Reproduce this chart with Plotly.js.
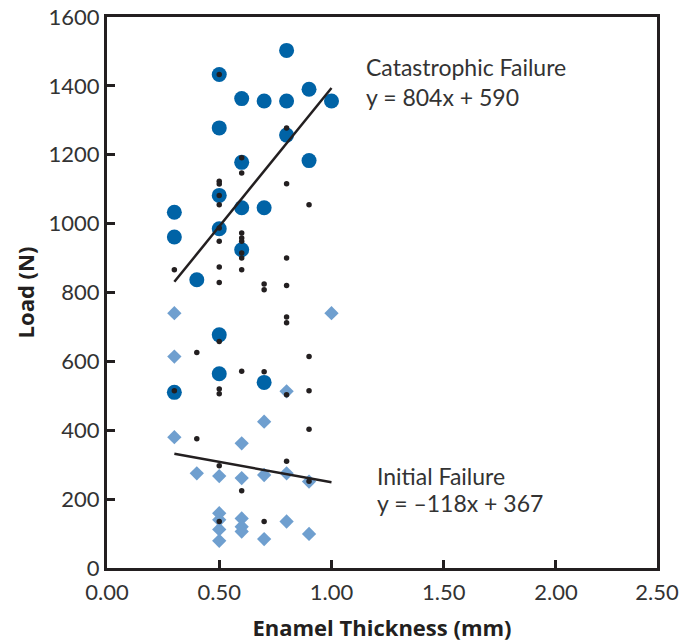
<!DOCTYPE html>
<html>
<head>
<meta charset="utf-8">
<script src="https://cdn.plot.ly/plotly-3.0.1.min.js"></script>
<style>html,body{margin:0;padding:0;background:#fff;}#chart{width:690px;height:642px;}</style>
</head>
<body>
<div id="chart"></div>
<script>
// Catastrophic failure (large blue circles)
const catX = [0.8, 0.5, 0.9, 0.6, 0.7, 0.8, 1.0, 0.5, 0.8, 0.6, 0.9, 0.5, 0.3, 0.6, 0.7, 0.3, 0.5, 0.6, 0.4, 0.5, 0.5, 0.7, 0.3];
const catY = [1503, 1433, 1390, 1363, 1356, 1356, 1356, 1278, 1257, 1178, 1183, 1082, 1033, 1046, 1046, 961, 985, 924, 837, 677, 564, 539, 510];

// Initial failure (light blue diamonds)
const initX = [0.3, 1.0, 0.3, 0.8, 0.7, 0.3, 0.6, 0.4, 0.5, 0.6, 0.7, 0.8, 0.9, 0.5, 0.5, 0.5, 0.5, 0.6, 0.6, 0.6, 0.7, 0.8, 0.9];
const initY = [740, 740, 614, 513, 425, 380, 362, 275, 267, 261, 270, 275, 251, 159, 140, 112, 79, 144, 120, 106, 84, 135, 99];

// Individual measurements (small black dots)
const dotX = [0.5, 0.8, 0.6, 0.6, 0.8, 0.5, 0.5, 0.5, 0.5, 0.9, 0.5, 0.5, 0.6, 0.6, 0.6, 0.6, 0.6, 0.8, 0.3, 0.5, 0.6, 0.5, 0.7, 0.7, 0.8, 0.8, 0.8, 0.5, 0.4, 0.9, 0.6, 0.7, 0.3, 0.5, 0.5, 0.8, 0.9, 0.4, 0.9, 0.8, 0.5, 0.9, 0.6, 0.5, 0.7];
const dotY = [1433, 1278, 1191, 1147, 1116, 1123, 1115, 1082, 1055, 1055, 987, 949, 973, 958, 949, 915, 900, 900, 866, 874, 866, 829, 825, 808, 820, 729, 712, 658, 626, 614, 571, 570, 515, 520, 506, 503, 515, 375, 403, 310, 297, 252, 224, 135, 135];

// Regression lines (end points from the printed equations)
const fitX = [0.3, 1.0];
const catFitY = [831, 1394];   // y = 804x + 590
const initFitY = [332, 249];   // y = -118x + 367

const tickVals = [0, 0.5, 1.0, 1.5, 2.0, 2.45];
const tickText = ['0.00', '0.50', '1.00', '1.50', '2.00', '2.50'];

const ink = '#231F20';
const font = 'Lato, "Open Sans", sans-serif';
const boldFont = '"Open Sans", Lato, sans-serif';

const traces = [
  {x: initX, y: initY, type: 'scatter', mode: 'markers', name: 'Initial',
   marker: {symbol: 'diamond', size: 11, color: '#6F9FCF'}},
  {x: catX, y: catY, type: 'scatter', mode: 'markers', name: 'Catastrophic',
   marker: {symbol: 'circle', size: 15, color: '#0063A6'}},
  {x: fitX, y: catFitY, type: 'scatter', mode: 'lines', line: {color: ink, width: 2.5}},
  {x: fitX, y: initFitY, type: 'scatter', mode: 'lines', line: {color: ink, width: 2.5}},
  {x: dotX, y: dotY, type: 'scatter', mode: 'markers', name: 'Data',
   marker: {symbol: 'circle', size: 5.5, color: ink}}
];

const layout = {
  width: 690, height: 642,
  margin: {l: 107, r: 33, t: 17, b: 74},
  paper_bgcolor: '#fff', plot_bgcolor: '#fff',
  showlegend: false,
  font: {family: font, color: ink, size: 22},
  xaxis: {
    range: [0, 2.45], tickvals: tickVals, ticktext: tickText,
    showgrid: false, zeroline: false,
    showline: true, linecolor: ink, linewidth: 3, mirror: true,
    ticks: 'inside', ticklen: 8, tickwidth: 3, tickcolor: ink,
    ticklabelstandoff: 3,
    tickfont: {family: font, size: 22, color: '#333'},
    title: {text: '<b>Enamel Thickness (mm)</b>', font: {family: boldFont, size: 22, color: ink}, standoff: 20}
  },
  yaxis: {
    range: [0, 1600], dtick: 200, tick0: 0,
    showgrid: false, zeroline: false,
    showline: true, linecolor: ink, linewidth: 3, mirror: true,
    ticks: 'inside', ticklen: 8, tickwidth: 3, tickcolor: ink,
    tickfont: {family: font, size: 22, color: '#333'},
    title: {text: '<b>Load (N)</b>', font: {family: boldFont, size: 22, color: ink}, standoff: 8}
  },
  annotations: [
    {x: 1.147, y: 1456, xref: 'x', yref: 'y', text: 'Catastrophic Failure', showarrow: false, xanchor: 'left', yanchor: 'middle', font: {family: font, size: 23, color: '#333'}},
    {x: 1.147, y: 1369, xref: 'x', yref: 'y', text: 'y = 804x + 590', showarrow: false, xanchor: 'left', yanchor: 'middle', font: {family: font, size: 23, color: '#333'}},
    {x: 1.196, y: 267, xref: 'x', yref: 'y', text: 'Initial Failure', showarrow: false, xanchor: 'left', yanchor: 'middle', font: {family: font, size: 23, color: '#333'}},
    {x: 1.196, y: 189, xref: 'x', yref: 'y', text: 'y = –118x + 367', showarrow: false, xanchor: 'left', yanchor: 'middle', font: {family: font, size: 23, color: '#333'}}
  ]
};

Plotly.newPlot('chart', traces, layout, {displayModeBar: false, staticPlot: true});
</script>
</body>
</html>
